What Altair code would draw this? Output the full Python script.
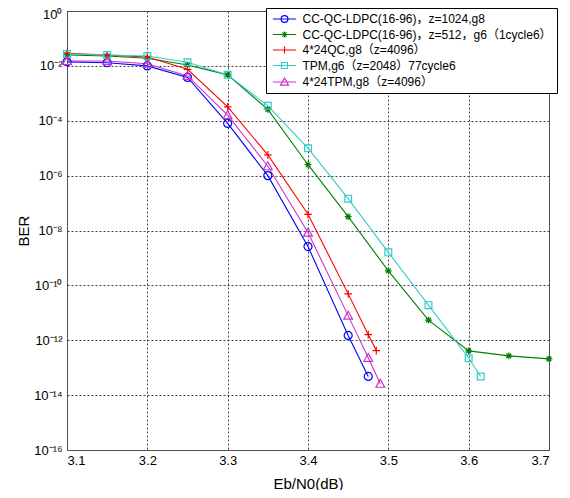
import altair as alt
import pandas as pd

# ---- data ----
series_names = [
    "CC-QC-LDPC(16-96)，z=1024,g8",
    "CC-QC-LDPC(16-96)，z=512，g6（1cycle6）",
    "4*24QC,g8（z=4096）",
    "TPM,g6（z=2048）77cycle6",
    "4*24TPM,g8（z=4096）",
]
series_colors = ["#0000FF", "#008000", "#FF0000", "#33CCCC", "#CC33CC"]

x_blue = [3.1, 3.15, 3.2, 3.25, 3.3, 3.35, 3.4, 3.45, 3.475]
ber_blue = [1.4e-2, 1.3e-2, 1.0e-2, 3.8e-3, 8e-5, 1e-6, 2.6e-9, 1.5e-12, 4.8e-14]

x_green = [3.1, 3.15, 3.2, 3.25, 3.3, 3.35, 3.4, 3.45, 3.5, 3.55, 3.6, 3.65, 3.7]
ber_green = [2.5e-2, 2.3e-2, 1.9e-2, 1.07e-2, 4.7e-3, 2.6e-4, 2.5e-6, 3.2e-8,
             3.4e-10, 5.4e-12, 4.1e-13, 2.7e-13, 2.1e-13]

x_red = [3.1, 3.15, 3.2, 3.25, 3.3, 3.35, 3.4, 3.45, 3.475, 3.485]
ber_red = [2.9e-2, 2.5e-2, 2.1e-2, 7.5e-3, 3.2e-4, 5.7e-6, 3.9e-8, 4.9e-11, 1.6e-12, 4.2e-13]

x_cyan = [3.1, 3.15, 3.2, 3.25, 3.3, 3.35, 3.4, 3.45, 3.5, 3.55, 3.6, 3.615]
ber_cyan = [2.7e-2, 2.5e-2, 2.3e-2, 1.35e-2, 4.7e-3, 3.5e-4, 1e-5, 1.45e-7,
            1.6e-9, 1.9e-11, 2.2e-13, 4.8e-14]

x_mag = [3.1, 3.15, 3.2, 3.25, 3.3, 3.35, 3.4, 3.45, 3.475, 3.49]
ber_mag = [1.5e-2, 1.5e-2, 1.2e-2, 4.3e-3, 1.6e-4, 2.2e-6, 8.4e-9, 7.9e-12, 2.3e-13, 2.6e-14]

x_ticks = [3.1, 3.2, 3.3, 3.4, 3.5, 3.6, 3.7]
y_ticks = [1, 1e-2, 1e-4, 1e-6, 1e-8, 1e-10, 1e-12, 1e-14, 1e-16]

# ---- build table ----
rows = []
for name, xs, ys in zip(series_names,
                        [x_blue, x_green, x_red, x_cyan, x_mag],
                        [ber_blue, ber_green, ber_red, ber_cyan, ber_mag]):
    for xv, yv in zip(xs, ys):
        rows.append({"x": xv, "ber": yv, "series": name})
df = pd.DataFrame(rows)

# ---- marker shapes (custom paths, unit ~ sqrt(size)/2 px) ----
def circle(r):
    return f"M{-r},0A{r},{r},0,1,1,{r},0A{r},{r},0,1,1,{-r},0Z"

def square(h):
    return f"M{-h},{-h}H{h}V{h}H{-h}Z"

def triangle(w):
    return f"M0,{-w}L{w},{0.8 * w}H{-w}Z"

def plus(h):
    return f"M{-h},0H{h}M0,{-h}V{h}"

def asterisk(h):
    a = round(0.7 * h, 3)
    return f"M{-h},0H{h}M0,{-h}V{h}M{-a},{-a}L{a},{a}M{-a},{a}L{a},{-a}"

markers = [circle(1.0), asterisk(0.85), plus(0.95), square(0.85), triangle(1.1)]
legend_markers = [circle(0.85), asterisk(0.75), plus(0.85), square(0.75), triangle(1.0)]
legend_shapes = ["M-2.9,0H2.9" + m for m in legend_markers]

FONT = "Liberation Sans, Arial, Noto Sans CJK SC"

color_scale = alt.Scale(domain=series_names, range=series_colors)

x_enc = alt.X("x:Q", scale=alt.Scale(domain=[3.1, 3.7], nice=False, zero=False),
              axis=alt.Axis(values=x_ticks, format=".1f", title="Eb/N0(dB)",
                            ticks=False, labelPadding=4, titleBaseline="alphabetic",
                            titleY=38))

exp = "'' + round(log(datum.value)/LN10)"
for ch, sup in [("-", "⁻"), ("0", "⁰"), ("1", "¹"), ("2", "²"),
                ("4", "⁴"), ("6", "⁶"), ("8", "⁸")]:
    exp = f"replace({exp}, '{ch}', '{sup}')"
label_expr = "'10' + " + exp

y_enc = alt.Y("ber:Q", scale=alt.Scale(type="log", domain=[1e-16, 1], nice=False),
              axis=alt.Axis(values=y_ticks, labelExpr=label_expr, title="BER",
                            ticks=False, labelPadding=5, titleBaseline="alphabetic",
                            titleX=-39,
                            labelBaseline={"condition": {"test": "datum.value >= 0.5",
                                                         "value": "top"},
                                           "value": "middle"},
                            labelOffset={"condition": {"test": "datum.value >= 0.5",
                                                       "value": -3},
                                         "value": 0}))

base = alt.Chart(df)

lines = base.mark_line(strokeWidth=1.1, opacity=1).encode(
    x=x_enc, y=y_enc,
    color=alt.Color("series:N", scale=color_scale, legend=None),
    detail="series:N",
)

points = base.mark_point(filled=False, size=64, strokeWidth=1.2, opacity=1).encode(
    x=x_enc, y=y_enc,
    color=alt.Color("series:N", scale=color_scale, legend=None),
    shape=alt.Shape("series:N", scale=alt.Scale(domain=series_names, range=markers),
                    legend=None),
)

leg = alt.Legend(
    title=None, orient="none", legendX=199, legendY=-3, columns=1,
    labelFont=FONT, labelFontSize=12, labelColor="#000", labelLimit=0,
    fillColor="#ffffff", strokeColor="#000000", padding=5, rowPadding=3.5,
    symbolSize=64, symbolStrokeWidth=1.2, symbolOpacity=1,
    symbolOffset=7.5, labelOffset=12,
)

legend_layer = base.mark_point(filled=False, size=64, strokeWidth=1.2, opacity=1).encode(
    x=x_enc, y=y_enc,
    color=alt.Color("series:N", scale=color_scale, legend=leg),
    shape=alt.Shape("series:N", scale=alt.Scale(domain=series_names, range=legend_shapes),
                    legend=leg),
).transform_filter("false")

chart = alt.layer(lines, points, legend_layer).resolve_scale(
    color="independent", shape="independent"
).properties(
    width=482, height=439,
    autosize=alt.AutoSizeParams(type="none"),
    padding={"left": 59, "top": 3, "right": 13, "bottom": 40},
).configure(font=FONT).configure_view(
    stroke="#606060", strokeWidth=1
).configure_axis(
    grid=True, gridDash=[2, 2], gridColor="#404040", gridOpacity=1, gridWidth=1,
    domain=False, labelFont=FONT, labelFontSize=13, labelColor="#000",
    titleFont=FONT, titleFontSize=15, titleFontWeight="normal", titleColor="#000",
)

chart.save("out.html", embed_options={"renderer": "svg", "actions": False})
